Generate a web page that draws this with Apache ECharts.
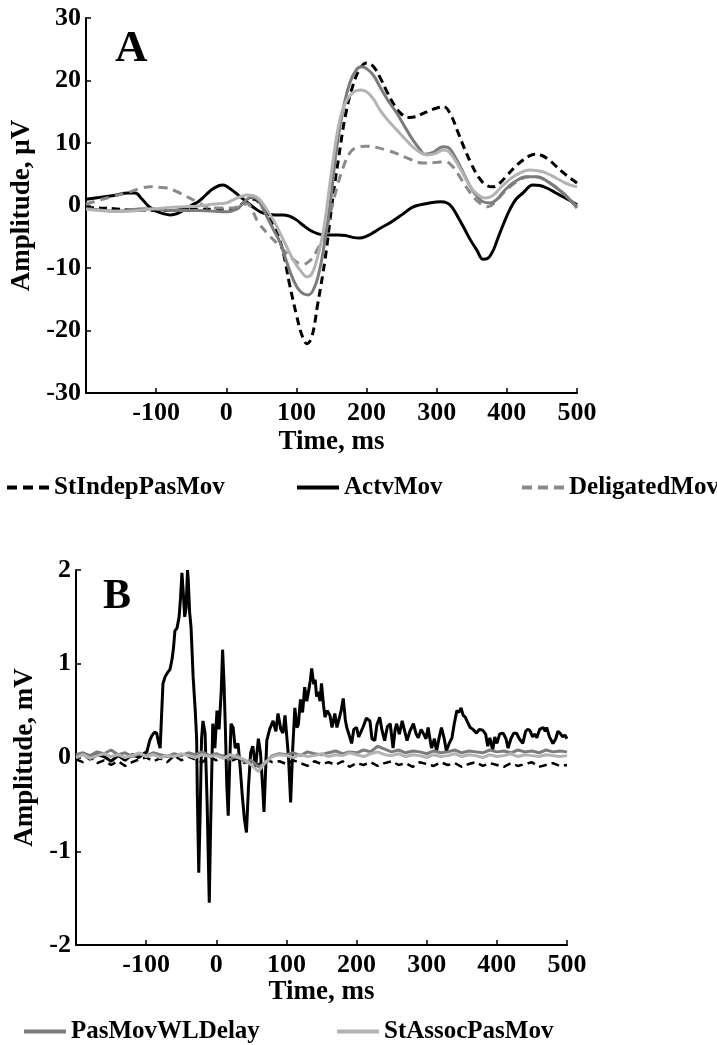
<!DOCTYPE html>
<html>
<head>
<meta charset="utf-8">
<script src="https://cdn.jsdelivr.net/npm/echarts@6/dist/echarts.min.js"></script>
<style>
html,body{margin:0;padding:0;background:#fff;}
#chart{width:717px;height:1045px;}
</style>
</head>
<body>
<div id="chart"></div>
<script>
// ---------- Panel A (µV) ----------
const xTicksA = [-200, 500, 100];
const yTicksA = [-30, 30, 10];
const stIndepA = [[-200,-0.3],[-180,-0.4],[-160,-0.5],[-140,-0.7],[-120,-0.7],[-100,-0.8],[-80,-0.8],[-60,-0.6],[-40,-0.6],[-20,-0.6],[0,-0.6],[10,-0.5],[20,0.1],[30,0.8],[40,1.0],[50,0.0],[60,-1.8],[70,-3.8],[80,-7.0],[90,-12.5],[100,-17.5],[108,-20.8],[115,-22.1],[122,-21.0],[130,-16.0],[141,-8.5],[151,0.5],[160,7.5],[170,14.5],[180,19.0],[190,21.8],[200,22.8],[210,22.2],[220,20.3],[230,18.0],[240,16.0],[250,14.6],[260,14.1],[270,14.2],[280,14.7],[290,15.2],[300,15.6],[310,15.8],[320,14.5],[330,11.8],[340,9.0],[350,6.5],[360,4.5],[370,3.3],[380,3.0],[390,3.6],[400,4.8],[410,6.0],[420,7.0],[430,7.8],[440,8.2],[450,8.0],[460,7.3],[470,6.3],[480,5.3],[490,4.4],[500,3.6]];
const actvA = [[-200,1.0],[-180,1.3],[-160,1.6],[-140,2.0],[-130,2.0],[-120,1.0],[-110,-0.2],[-100,-0.9],[-90,-1.3],[-80,-1.5],[-70,-1.3],[-60,-0.7],[-50,0.0],[-40,0.6],[-30,1.6],[-20,2.6],[-10,3.2],[-5,3.3],[0,3.1],[10,2.3],[20,1.4],[30,0.5],[40,-0.4],[50,-1.1],[60,-1.4],[70,-1.5],[80,-1.5],[90,-1.7],[100,-2.3],[110,-3.2],[120,-4.0],[130,-4.5],[140,-4.7],[150,-4.7],[160,-4.7],[170,-4.8],[180,-5.1],[190,-5.2],[200,-4.9],[210,-4.3],[220,-3.6],[233,-2.8],[250,-1.5],[265,-0.3],[276,0.1],[290,0.4],[305,0.6],[315,0.4],[322,-0.3],[330,-1.8],[338,-3.4],[348,-5.5],[357,-7.1],[366,-8.6],[372,-8.5],[380,-7.3],[386,-5.6],[395,-3.0],[404,-0.7],[413,1.0],[423,2.0],[437,3.3],[447,3.2],[457,2.8],[470,2.0],[480,1.4],[490,0.8],[500,0.1]];
const deligA = [[-200,0.2],[-180,0.9],[-160,1.5],[-140,2.1],[-120,2.8],[-108,3.0],[-95,2.9],[-85,2.8],[-70,2.2],[-56,1.4],[-40,0.5],[-28,-0.2],[-10,-0.4],[10,-0.4],[22,0.1],[30,0.3],[38,-1.0],[45,-2.6],[58,-4.4],[77,-6.6],[95,-8.6],[108,-9.4],[115,-9.2],[122,-8.5],[130,-7.0],[141,-4.4],[150,-0.5],[158,3.0],[167,6.2],[176,8.4],[186,9.3],[200,9.5],[214,9.3],[230,8.8],[243,8.3],[260,7.5],[281,6.8],[300,6.9],[312,7.0],[323,6.2],[335,4.2],[348,2.0],[358,0.7],[366,0.1],[373,-0.2],[382,0.4],[395,2.0],[410,3.5],[423,4.4],[435,4.6],[445,4.5],[460,3.7],[480,2.0],[490,0.9],[500,-0.2]];
const pasWLA = [[-200,-0.5],[-180,-0.7],[-160,-0.9],[-140,-0.8],[-120,-0.5],[-100,-0.6],[-80,-0.8],[-60,-0.8],[-40,-0.8],[-20,-0.9],[0,-1.0],[15,-0.6],[25,0.5],[35,1.3],[42,1.2],[50,0.0],[58,-1.8],[67,-3.8],[77,-6.0],[86,-9.0],[96,-12.0],[106,-13.8],[117,-14.3],[126,-13.0],[134,-9.8],[140,-6.0],[145,-2.3],[150,2.0],[157,8.9],[165,14.5],[176,19.6],[186,21.8],[193,22.2],[200,21.9],[210,20.8],[219,19.0],[230,16.9],[243,14.8],[255,12.5],[266,10.5],[276,9.0],[283,8.2],[295,8.5],[309,9.4],[316,9.3],[323,8.4],[335,5.9],[348,3.0],[358,1.4],[366,0.6],[376,0.4],[386,1.0],[395,2.2],[410,3.7],[428,4.6],[443,4.6],[460,3.7],[480,2.0],[490,0.9],[500,-0.4]];
const stAssocA = [[-200,-0.6],[-180,-0.8],[-160,-0.9],[-140,-0.9],[-120,-0.7],[-100,-0.5],[-80,-0.3],[-60,-0.2],[-40,-0.1],[-20,0.2],[0,0.4],[10,0.9],[20,1.4],[30,1.7],[38,1.6],[48,0.9],[57,-0.5],[67,-2.3],[77,-4.5],[86,-6.6],[96,-8.8],[105,-10.3],[115,-11.4],[122,-10.9],[129,-8.7],[135,-6.0],[141,-2.3],[146,2.0],[152,7.0],[158,11.5],[165,15.0],[172,16.9],[182,18.2],[191,18.5],[200,18.2],[210,17.0],[219,15.3],[230,13.7],[243,12.1],[257,10.4],[271,8.9],[286,8.1],[298,8.3],[309,8.9],[316,8.7],[323,7.8],[335,5.6],[348,3.0],[358,1.8],[369,1.2],[380,1.6],[395,3.3],[412,4.8],[433,5.7],[451,5.4],[465,4.7],[480,3.8],[490,3.3],[500,3.0]];

// ---------- Panel B (mV) ----------
const xTicksB = [-200, 500, 100];
const yTicksB = [-2, 2, 1];
const timeB = [-200,-190,-180,-170,-160,-150,-140,-130,-120,-110,-100,-90,-80,-70,-60,-50,-40,-30,-20,-10,0,10,20,30,40,50,60,70,80,90,100,110,120,130,140,150,160,170,180,190,200,210,220,230,240,250,260,270,280,290,300,310,320,330,340,350,360,370,380,390,400,410,420,430,440,450,460,470,480,490,500];
const stIndepB = [-0.02,-0.05,0.01,-0.06,-0.03,-0.08,-0.04,-0.09,-0.05,-0.02,0.00,-0.04,-0.01,-0.05,0.02,-0.03,0.01,-0.02,-0.05,0.01,-0.03,0.02,-0.04,-0.01,-0.06,-0.03,-0.08,-0.02,-0.05,-0.04,-0.07,-0.03,-0.06,-0.09,-0.04,-0.07,-0.05,-0.08,-0.04,-0.10,-0.06,-0.08,-0.05,-0.09,-0.06,-0.04,-0.08,-0.06,-0.10,-0.05,-0.07,-0.09,-0.05,-0.08,-0.06,-0.10,-0.07,-0.05,-0.09,-0.06,-0.08,-0.10,-0.06,-0.09,-0.07,-0.05,-0.10,-0.08,-0.06,-0.09,-0.08];
const pasWLB = [0.03,0.05,0.02,0.06,0.04,0.08,0.03,0.05,0.01,0.04,0.02,0.05,0.03,0.01,0.04,0.02,0.05,0.03,0.06,0.02,0.04,0.01,-0.02,0.03,-0.05,-0.03,-0.10,-0.06,0.02,0.04,0.03,0.05,0.02,0.06,0.04,0.03,0.05,0.07,0.04,0.06,0.05,0.08,0.06,0.12,0.09,0.06,0.08,0.05,0.07,0.06,0.04,0.07,0.05,0.06,0.08,0.05,0.07,0.06,0.05,0.08,0.06,0.07,0.05,0.08,0.06,0.07,0.05,0.08,0.06,0.07,0.06];
const stAssocB = [0.00,0.03,-0.01,0.02,0.04,0.01,0.03,0.00,0.02,0.05,0.01,0.03,0.00,0.02,0.01,0.04,0.02,0.00,0.03,0.01,0.02,-0.01,0.03,0.00,-0.02,-0.08,-0.15,-0.05,0.01,0.03,0.02,0.00,0.03,0.01,0.02,0.04,0.01,0.03,0.02,0.05,0.03,0.01,0.04,0.06,0.03,0.02,0.04,0.01,0.03,0.02,0.00,0.03,0.01,0.02,0.04,0.01,0.03,0.02,0.00,0.03,0.01,0.02,0.04,0.01,0.03,0.02,0.01,0.03,0.02,0.01,0.02];
const actvB = [[-200,0.02],[-190,0.04],[-180,-0.02],[-170,0.03],[-160,0.01],[-150,-0.04],[-140,0.02],[-130,-0.03],[-120,0.03],[-110,0.0],[-104,0.04],[-99,0.06],[-95,0.18],[-92,0.23],[-88,0.27],[-85,0.26],[-82,0.15],[-80,0.1],[-78,0.45],[-76,0.79],[-73,0.86],[-70,0.9],[-66,0.94],[-63,1.05],[-61,1.17],[-59,1.35],[-56,1.38],[-53,1.5],[-51,1.7],[-49,1.97],[-47,1.75],[-45,1.5],[-43,1.6],[-41,2.0],[-40,1.9],[-38,1.55],[-36,1.39],[-33,0.86],[-30,0.5],[-28,0.2],[-27,-0.4],[-25,-1.23],[-23,-0.6],[-21,0.2],[-19,0.39],[-16,0.26],[-13,-0.5],[-10,-1.55],[-8,-0.7],[-5,0.36],[-2,0.1],[1,0.5],[4,0.3],[7,0.7],[9,1.15],[11,0.8],[13,0.3],[15,-0.3],[17,-0.62],[19,-0.1],[21,0.36],[24,0.32],[27,0.1],[31,0.15],[34,-0.1],[37,-0.4],[40,-0.65],[43,-0.8],[46,-0.3],[49,0.05],[52,0.12],[56,-0.1],[60,0.2],[63,0.05],[66,-0.3],[68,-0.58],[70,-0.2],[72,0.18],[76,0.3],[81,0.39],[85,0.28],[88,0.47],[92,0.3],[95,0.26],[98,0.45],[100,0.47],[103,0.0],[106,-0.48],[109,0.1],[112,0.53],[115,0.32],[117,0.35],[120,0.62],[123,0.48],[126,0.75],[129,0.6],[131,0.68],[134,0.82],[136,0.95],[139,0.78],[141,0.83],[143,0.65],[145,0.7],[148,0.6],[150,0.79],[153,0.55],[155,0.43],[158,0.5],[162,0.45],[165,0.32],[169,0.47],[172,0.32],[174,0.38],[178,0.5],[181,0.63],[184,0.4],[186,0.32],[189,0.25],[193,0.15],[196,0.3],[200,0.32],[203,0.22],[205,0.2],[209,0.32],[214,0.42],[219,0.39],[222,0.2],[226,0.18],[229,0.35],[233,0.43],[236,0.3],[240,0.18],[244,0.33],[248,0.36],[252,0.1],[255,0.3],[257,0.36],[261,0.25],[265,0.39],[268,0.3],[272,0.18],[276,0.28],[281,0.36],[285,0.25],[288,0.21],[292,0.3],[295,0.26],[299,0.2],[302,0.32],[305,0.18],[307,0.1],[311,0.2],[314,0.07],[318,0.22],[321,0.32],[325,0.2],[328,0.07],[332,0.15],[336,0.21],[339,0.35],[343,0.5],[346,0.48],[349,0.53],[352,0.45],[355,0.43],[358,0.38],[362,0.32],[366,0.3],[371,0.26],[375,0.3],[380,0.29],[384,0.25],[387,0.12],[390,0.21],[394,0.08],[397,0.22],[400,0.15],[404,0.25],[409,0.26],[413,0.2],[416,0.1],[420,0.2],[424,0.26],[428,0.26],[432,0.2],[437,0.15],[441,0.28],[444,0.3],[447,0.29],[451,0.22],[454,0.25],[457,0.21],[461,0.3],[466,0.32],[469,0.28],[471,0.32],[475,0.22],[480,0.15],[484,0.2],[487,0.28],[490,0.26],[494,0.22],[497,0.24],[500,0.2]];

const seriesNames = ['StIndepPasMov','ActvMov','DeligatedMov','PasMovWLDelay','StAssocPasMov'];
const xName = 'Time, ms';
const yNameA = 'Amplitude, \u03bcV';
const yNameB = 'Amplitude, mV';

const FONT = '"Liberation Serif", "Times New Roman", serif';
const C = {
  StIndepPasMov: '#000000',
  ActvMov: '#000000',
  DeligatedMov: '#8a8a8a',
  PasMovWLDelay: '#7c7c7c',
  StAssocPasMov: '#b3b3b3'
};
const DASH = {StIndepPasMov: [8,5], DeligatedMov: [9,6]};

function xAxis(gridIndex, ticks, nameGap) {
  return {
    type: 'value', gridIndex: gridIndex, min: ticks[0], max: ticks[1], interval: ticks[2],
    name: xName, nameLocation: 'middle', nameGap: nameGap,
    nameTextStyle: {fontFamily: FONT, fontWeight: 'bold', fontSize: 27, color: '#000'},
    axisLine: {show: true, onZero: false, lineStyle: {color: '#000', width: 2}},
    axisTick: {show: true, inside: true, length: 5, lineStyle: {color: '#000', width: 1.5}},
    axisLabel: {showMinLabel: false, margin: 7, fontFamily: FONT, fontWeight: 'bold', fontSize: 26, color: '#000'},
    splitLine: {show: false}
  };
}
function yAxis(gridIndex, ticks, name, nameGap) {
  return {
    type: 'value', gridIndex: gridIndex, min: ticks[0], max: ticks[1], interval: ticks[2],
    name: name, nameLocation: 'middle', nameGap: nameGap, nameRotate: 90,
    nameTextStyle: {fontFamily: FONT, fontWeight: 'bold', fontSize: 27, color: '#000'},
    axisLine: {show: true, onZero: false, lineStyle: {color: '#000', width: 2}},
    axisTick: {show: true, inside: true, length: 5, lineStyle: {color: '#000', width: 1.5}},
    axisLabel: {margin: 5, fontFamily: FONT, fontWeight: 'bold', fontSize: 26, color: '#000'},
    splitLine: {show: false}
  };
}
function line(name, idx, data, width, smooth) {
  return {
    name: name, type: 'line', xAxisIndex: idx, yAxisIndex: idx, data: data,
    symbol: 'none', smooth: smooth, clip: true, animation: false,
    lineStyle: {color: C[name], width: width, type: DASH[name] || 'solid'},
    itemStyle: {color: C[name]}
  };
}
function zipB(vals) { return timeB.map((t, i) => [t, vals[i]]); }
function legend(name, left, top) {
  const dashed = !!DASH[name];
  return {
    data: [name], left: left, top: top, orient: 'horizontal', padding: 0,
    itemWidth: 42, itemHeight: 14, selectedMode: false,
    itemStyle: {color: 'rgba(0,0,0,0)', borderWidth: 0, opacity: 0},
    lineStyle: {width: 4, type: dashed ? [10,6] : 'solid', color: C[name]},
    textStyle: {fontFamily: FONT, fontWeight: 'bold', fontSize: 25, color: '#000'}
  };
}

const chart = echarts.init(document.getElementById('chart'), null, {renderer: 'canvas'});
chart.setOption({
  backgroundColor: '#fff',
  animation: false,
  grid: [
    {left: 86, top: 18, width: 491, height: 375, containLabel: false},
    {left: 76, top: 570, width: 491, height: 375, containLabel: false}
  ],
  xAxis: [xAxis(0, xTicksA, 36), xAxis(1, xTicksB, 28)],
  yAxis: [yAxis(0, yTicksA, yNameA, 44), yAxis(1, yTicksB, yNameB, 34)],
  legend: [
    legend(seriesNames[0], 5, 475),
    legend(seriesNames[1], 295, 475),
    legend(seriesNames[2], 520, 475),
    legend(seriesNames[3], 22, 1019),
    legend(seriesNames[4], 335, 1019)
  ],
  graphic: [
    {type: 'text', left: 115, top: 27, style: {text: 'A', font: 'bold 45px "Liberation Serif"', fill: '#000'}},
    {type: 'text', left: 103, top: 576, style: {text: 'B', font: 'bold 42px "Liberation Serif"', fill: '#000'}}
  ],
  series: [
    line('StIndepPasMov', 0, stIndepA, 3, 0.4),
    line('ActvMov', 0, actvA, 3, 0.4),
    line('DeligatedMov', 0, deligA, 3, 0.4),
    line('PasMovWLDelay', 0, pasWLA, 3, 0.4),
    line('StAssocPasMov', 0, stAssocA, 3, 0.4),
    line('StIndepPasMov', 1, zipB(stIndepB), 2.5, false),
    line('ActvMov', 1, actvB, 3, false),
    line('PasMovWLDelay', 1, zipB(pasWLB), 3, false),
    line('StAssocPasMov', 1, zipB(stAssocB), 3, false)
  ]
});
</script>
</body>
</html>
